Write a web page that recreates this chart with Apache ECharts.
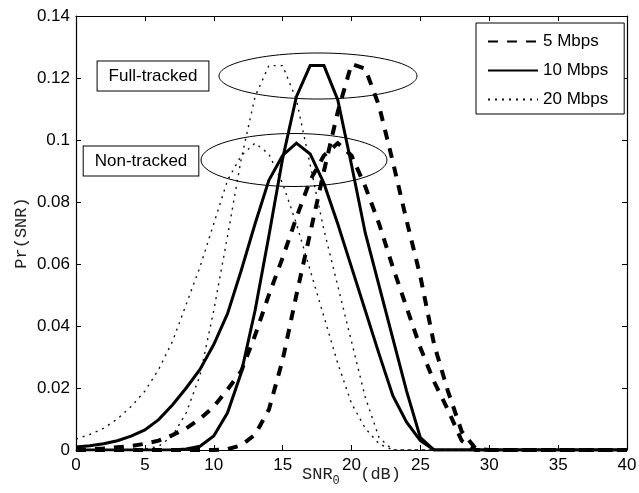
<!DOCTYPE html>
<html>
<head>
<meta charset="utf-8">
<script src="https://cdn.jsdelivr.net/npm/echarts@6/dist/echarts.min.js"></script>
<style>
html,body{margin:0;padding:0;background:#fff;}
#c{width:639px;height:493px;}
</style>
</head>
<body>
<div id="c"></div>
<script>
// SNR_0 (dB) sample points
const snr = [0,1,2,3,4,5,6,7,8,9,10,11,12,13,14,15,16,17,18,19,20,21,22,23,24,25,26,27,28,29,30,31,32,33,34,35,36,37,38,39,40];

// Full-tracked curves
const full5 = [0,0,0,0,0,0,0,0,0,0,0,0.0003,0.0015,0.005,0.013,0.029,0.050,0.070,0.090,0.109,0.1245,0.123,0.111,0.093,0.074,0.056,0.034,0.019,0.006,0.0005,0,0,0,0,0,0,0,0,0,0,0];
const full10 = [0,0,0,0,0,0,0,0,0.0003,0.0012,0.0045,0.012,0.025,0.045,0.069,0.094,0.114,0.124,0.124,0.113,0.092,0.070,0.053,0.036,0.019,0.004,0,0,0,0,0,0,0,0,0,0,0,0,0,0,0];
const full20 = [0,0,0,0,0,0.0003,0.0012,0.0045,0.012,0.024,0.045,0.069,0.094,0.114,0.124,0.124,0.113,0.092,0.071,0.053,0.035,0.017,0.004,0,0,0,0,0,0,0,0,0,0,0,0,0,0,0,0,0,0];

// Non-tracked curves
const non5 = [0,0.0002,0.0005,0.0009,0.0013,0.002,0.003,0.0048,0.007,0.010,0.014,0.0195,0.0255,0.037,0.050,0.062,0.075,0.087,0.095,0.099,0.095,0.085,0.073,0.059,0.046,0.033,0.022,0.013,0.003,0,0,0,0,0,0,0,0,0,0,0,0];
const non10 = [0.001,0.0014,0.002,0.003,0.0045,0.0065,0.0098,0.0145,0.020,0.026,0.034,0.044,0.058,0.073,0.087,0.095,0.099,0.0955,0.086,0.073,0.059,0.045,0.031,0.0175,0.009,0.003,0,0,0,0,0,0,0,0,0,0,0,0,0,0,0];
const non20 = [0.0035,0.005,0.007,0.010,0.014,0.019,0.026,0.035,0.047,0.059,0.073,0.087,0.095,0.099,0.0955,0.086,0.073,0.058,0.043,0.028,0.015,0.007,0.002,0,0,0,0,0,0,0,0,0,0,0,0,0,0,0,0,0,0];

const legendNames = ['5 Mbps','10 Mbps','20 Mbps'];
const annotations = ['Full-tracked','Non-tracked'];

function pairs(ys){ return snr.map((x,i)=>[x, ys[i]]); }

const sans = '"Liberation Sans", Arial, Helvetica, sans-serif';
const mono = '"Liberation Mono", "Courier New", monospace';

const styles = {
  '5 Mbps':  {color:'#000', width:4, type:[10,9]},
  '10 Mbps': {color:'#000', width:3, type:'solid'},
  '20 Mbps': {color:'#111', width:1.4, type:[2,5]}
};

function mk(name, ys){
  const s = styles[name];
  return {
    name: name, type:'line', data: pairs(ys), symbol:'none', showSymbol:false,
    lineStyle:{color:s.color, width:s.width, type:s.type, cap:'butt', join:'miter'},
    itemStyle:{color:s.color}, animation:false, silent:true, z:3
  };
}

const chart = echarts.init(document.getElementById('c'), null, {renderer:'canvas'});

const axCommon = {
  type:'value', min:0, max:40, interval:5,
  axisLine:{show:true, onZero:false, lineStyle:{color:'#000', width:1.2}},
  axisTick:{show:true, inside:true, length:5, lineStyle:{color:'#000', width:1}},
  splitLine:{show:false}
};
const ayCommon = {
  type:'value', min:0, max:0.14, interval:0.02,
  axisLine:{show:true, onZero:false, lineStyle:{color:'#000', width:1.2}},
  axisTick:{show:true, inside:true, length:5, lineStyle:{color:'#000', width:1}},
  splitLine:{show:false}
};

chart.setOption({
  backgroundColor:'#fff',
  animation:false,
  grid:{left:76, right:12, top:16, bottom:43, containLabel:false, outerBoundsMode:'none'},
  xAxis:[
    Object.assign({}, axCommon, {
      position:'bottom',
      axisLabel:{show:true, color:'#000', fontFamily:sans, fontSize:17, margin:7},
      name:'{a|SNR}{s|0}{a|  (dB)}',
      nameLocation:'middle', nameGap:16, nameMoveOverlap:false,
      nameTextStyle:{
        rich:{
          a:{fontFamily:mono, fontSize:17, color:'#222', lineHeight:17, verticalAlign:'top'},
          s:{fontFamily:mono, fontSize:12, color:'#222', lineHeight:21, verticalAlign:'bottom'}
        }
      }
    }),
    Object.assign({}, axCommon, {position:'top', axisLabel:{show:false}})
  ],
  yAxis:[
    Object.assign({}, ayCommon, {
      position:'left',
      axisLabel:{show:true, color:'#000', fontFamily:sans, fontSize:17, margin:6},
      name:'Pr(SNR)', nameLocation:'middle', nameGap:46, nameMoveOverlap:false,
      nameTextStyle:{fontFamily:mono, fontSize:17, color:'#222'}
    }),
    Object.assign({}, ayCommon, {position:'right', axisLabel:{show:false}})
  ],
  legend:{
    data: legendNames,
    orient:'vertical', left:476, top:23,
    itemWidth:50, itemHeight:16, itemGap:12,
    padding:[10,16,6,11],
    backgroundColor:'#fff', borderColor:'#000', borderWidth:1,
    itemStyle:{opacity:0},
    textStyle:{fontFamily:sans, fontSize:17, color:'#000'},
    selectedMode:false
  },
  series:[
    mk('5 Mbps', full5), mk('10 Mbps', full10), mk('20 Mbps', full20),
    mk('5 Mbps', non5), mk('10 Mbps', non10), mk('20 Mbps', non20)
  ],
  graphic:[
    {type:'ellipse', shape:{cx:318, cy:76, rx:99, ry:23}, style:{fill:null, stroke:'#000', lineWidth:1}, z:10, silent:true},
    {type:'ellipse', shape:{cx:294, cy:160, rx:93, ry:26.5}, style:{fill:null, stroke:'#000', lineWidth:1}, z:10, silent:true},
    {type:'text', x:153, y:76, z:10, silent:true,
     style:{text:annotations[0], font:'17px '+sans, fill:'#000', align:'center', verticalAlign:'middle',
            backgroundColor:'#fff', borderColor:'#000', borderWidth:1, padding:[6,11,6,11]}},
    {type:'text', x:141, y:161, z:10, silent:true,
     style:{text:annotations[1], font:'17px '+sans, fill:'#000', align:'center', verticalAlign:'middle',
            backgroundColor:'#fff', borderColor:'#000', borderWidth:1, padding:[6,11,6,11]}}
  ]
});
</script>
</body>
</html>
